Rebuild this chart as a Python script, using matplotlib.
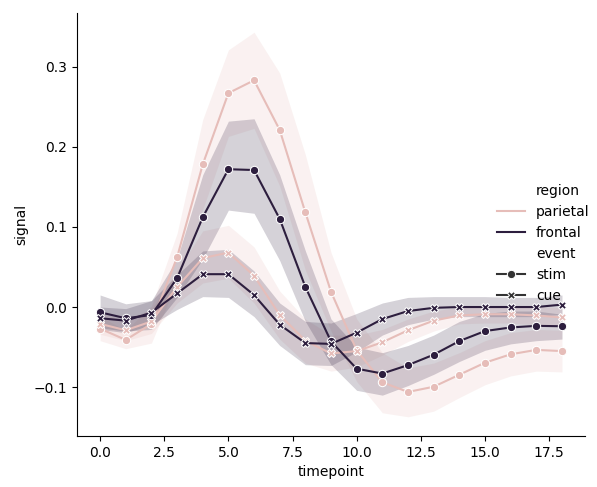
import numpy as np
import matplotlib
matplotlib.use('Agg')
import matplotlib.pyplot as plt
from matplotlib.lines import Line2D

timepoint = np.arange(19)

# parietal / stim
parietal_stim    = [-0.027, -0.041, -0.021, 0.062, 0.178, 0.267, 0.283, 0.221, 0.118, 0.019,
                    -0.054, -0.094, -0.106, -0.0995, -0.0845, -0.0695, -0.059, -0.0535, -0.055]
parietal_stim_hi = [-0.012, -0.029, 0.001, 0.092, 0.234, 0.321, 0.343, 0.292, 0.190, 0.068,
                    -0.015, -0.057, -0.076, -0.070, -0.057, -0.042, -0.032, -0.028, -0.029]
parietal_stim_lo = [-0.042, -0.052, -0.045, 0.032, 0.122, 0.213, 0.223, 0.151, 0.046, -0.030,
                    -0.093, -0.132, -0.137, -0.130, -0.113, -0.097, -0.086, -0.080, -0.081]

# parietal / cue
parietal_cue    = [-0.021, -0.029, -0.018, 0.025, 0.061, 0.068, 0.039, -0.010, -0.042, -0.058,
                   -0.055, -0.044, -0.029, -0.017, -0.0105, -0.009, -0.009, -0.0105, -0.013]
parietal_cue_hi = [-0.008, -0.016, -0.003, 0.045, 0.095, 0.102, 0.075, 0.020, -0.015, -0.035,
                   -0.035, -0.028, -0.015, -0.005, 0.000, 0.002, 0.002, 0.001, -0.001]
parietal_cue_lo = [-0.034, -0.042, -0.033, 0.005, 0.030, 0.036, 0.005, -0.040, -0.070, -0.080,
                   -0.075, -0.060, -0.043, -0.030, -0.021, -0.020, -0.020, -0.022, -0.025]

# frontal / stim
frontal_stim    = [-0.0066, -0.014, -0.010, 0.036, 0.112, 0.172, 0.171, 0.110, 0.025, -0.043,
                   -0.077, -0.083, -0.0725, -0.0595, -0.0425, -0.030, -0.0255, -0.0235, -0.024]
frontal_stim_hi = [0.015, 0.004, 0.008, 0.060, 0.165, 0.232, 0.235, 0.165, 0.070, -0.015,
                   -0.050, -0.057, -0.048, -0.035, -0.018, -0.008, -0.005, -0.005, -0.009]
frontal_stim_lo = [-0.026, -0.030, -0.028, 0.012, 0.060, 0.121, 0.117, 0.058, -0.018, -0.072,
                   -0.104, -0.110, -0.098, -0.084, -0.068, -0.054, -0.046, -0.042, -0.040]

# frontal / cue
frontal_cue    = [-0.014, -0.017, -0.007, 0.017, 0.041, 0.041, 0.015, -0.022, -0.045, -0.046,
                  -0.032, -0.015, -0.005, -0.001, 0.000, 0.000, 0.000, 0.000, 0.003]
frontal_cue_hi = [0.000, -0.002, 0.008, 0.040, 0.070, 0.072, 0.045, 0.005, -0.018, -0.020,
                  -0.008, 0.005, 0.012, 0.013, 0.013, 0.013, 0.012, 0.012, 0.015]
frontal_cue_lo = [-0.028, -0.032, -0.022, -0.003, 0.013, 0.012, -0.012, -0.048, -0.072, -0.073,
                  -0.056, -0.035, -0.022, -0.015, -0.012, -0.012, -0.012, -0.012, -0.009]

c_parietal = '#e6bdb9'
c_frontal = '#2d1e3e'

series = [
    (parietal_stim, parietal_stim_lo, parietal_stim_hi, c_parietal, 'o'),
    (parietal_cue, parietal_cue_lo, parietal_cue_hi, c_parietal, 'X'),
    (frontal_stim, frontal_stim_lo, frontal_stim_hi, c_frontal, 'o'),
    (frontal_cue, frontal_cue_lo, frontal_cue_hi, c_frontal, 'X'),
]

fig = plt.figure(figsize=(5.97, 4.87), dpi=100)
ax = fig.add_axes([0.129, 0.1047, 0.851, 0.8686])

for mean, lo, hi, col, mk in series:
    ax.plot(timepoint, mean, color=col, marker=mk, markersize=6,
            markeredgecolor='w', markeredgewidth=0.75, lw=1.5)
    ax.fill_between(timepoint, lo, hi, color=col, alpha=0.2, linewidth=0)

ax.set_xlabel('timepoint')
ax.set_ylabel('signal')
ax.spines['top'].set_visible(False)
ax.spines['right'].set_visible(False)

blank = Line2D([], [], color='none')
handles = [blank,
           Line2D([], [], color=c_parietal, lw=1.5),
           Line2D([], [], color=c_frontal, lw=1.5),
           blank,
           Line2D([], [], color='.2', lw=1.5, marker='o', markersize=6,
                  markeredgecolor='w', markeredgewidth=0.75),
           Line2D([], [], color='.2', lw=1.5, marker='X', markersize=6,
                  markeredgecolor='w', markeredgewidth=0.75)]
labels = ['region', 'parietal', 'frontal', 'event', 'stim', 'cue']
fig.legend(handles, labels, loc='center left', bbox_to_anchor=(491.5 / 597, 0.5),
           frameon=False, borderaxespad=0)

fig.savefig('out.png', dpi=100)
